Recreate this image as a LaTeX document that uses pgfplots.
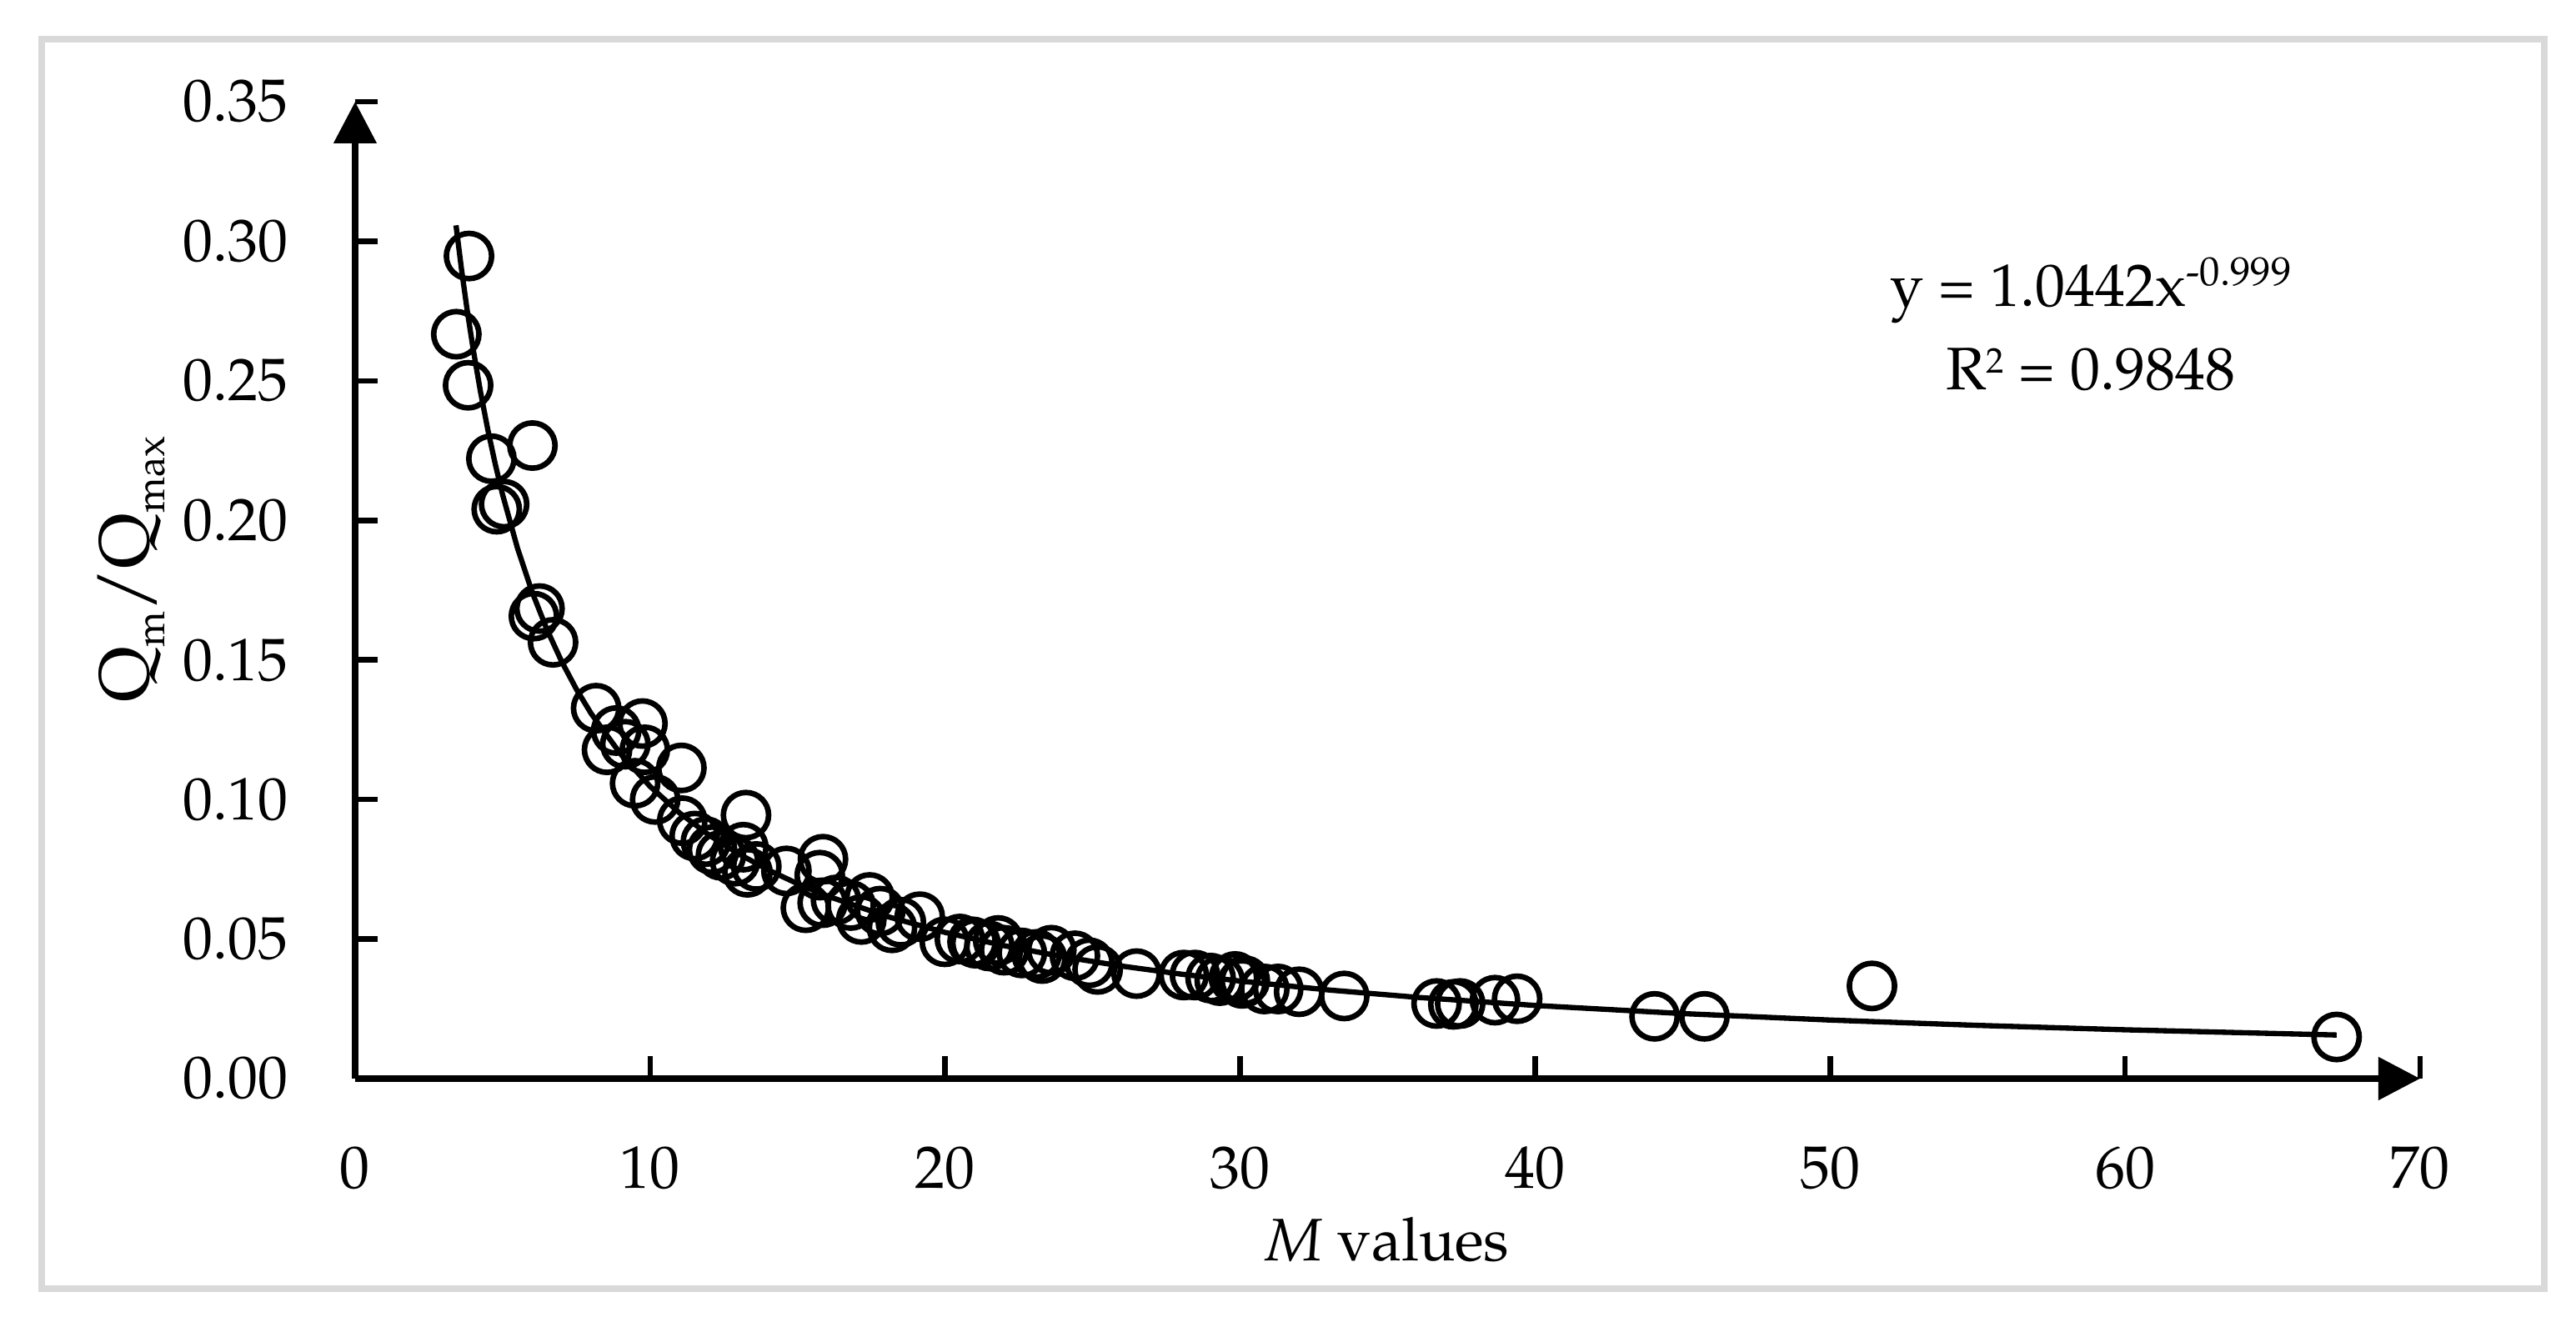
\documentclass[border=0pt]{standalone}
\usepackage[T1]{fontenc}
\usepackage{mathpazo}
\usepackage{pgfplots}
\pgfplotsset{compat=1.18}
\usetikzlibrary{arrows.meta}
\pgfplotstableread{
x y
3.43 0.2667
3.86 0.2947
3.83 0.2484
4.62 0.2221
6.01 0.2268
4.80 0.2040
5.05 0.2058
6.25 0.1684
6.06 0.1657
6.71 0.1563
8.17 0.1327
9.74 0.1272
8.85 0.1247
8.54 0.1178
9.82 0.1178
9.16 0.1198
11.06 0.1113
9.49 0.1058
10.17 0.1000
11.09 0.0924
13.25 0.0944
11.89 0.0849
11.51 0.0869
12.88 0.0779
13.16 0.0829
13.30 0.0739
12.40 0.0800
12.10 0.0820
13.60 0.0760
14.62 0.0744
15.86 0.0786
15.75 0.0729
15.28 0.0612
15.85 0.0630
16.30 0.0640
16.80 0.0620
17.44 0.0649
17.16 0.0570
17.80 0.0600
18.20 0.0540
18.50 0.0560
19.14 0.0580
19.99 0.0490
20.50 0.0500
20.93 0.0490
21.03 0.0485
21.50 0.0475
21.80 0.0495
22.00 0.0460
22.60 0.0450
23.10 0.0445
23.29 0.0430
23.60 0.0460
24.40 0.0440
24.89 0.0415
25.17 0.0391
26.49 0.0376
28.09 0.0371
28.47 0.0371
29.00 0.0360
29.31 0.0351
29.79 0.0361
29.83 0.0366
30.07 0.0341
30.16 0.0351
30.82 0.0321
31.29 0.0321
32.00 0.0311
33.53 0.0296
36.66 0.0269
37.23 0.0266
37.46 0.0269
38.64 0.0281
39.39 0.0286
44.05 0.0223
45.74 0.0223
51.42 0.0332
67.17 0.0149
}\pointdata
\pgfplotstableread{
x y
3.42 0.30570
3.6 0.29043
3.8 0.27516
4 0.26141
4.25 0.24605
4.5 0.23239
4.75 0.22017
5 0.20918
5.5 0.19018
6 0.17434
6.5 0.16095
7 0.14946
7.5 0.13951
8 0.13080
9 0.11628
10 0.10466
11 0.09516
12 0.08723
13 0.08053
14 0.07478
15 0.06980
16 0.06544
18 0.05818
20 0.05237
22 0.04761
24 0.04365
26 0.04029
28 0.03742
30 0.03493
33 0.03175
36 0.02911
40 0.02620
45 0.02329
50 0.02097
55 0.01906
60 0.01748
67.17 0.01561
}\fitdata
\newcommand{\sub}[1]{\raisebox{-2.85pt}{\fontsize{7.3}{8}\selectfont #1}}
\begin{document}
\begin{tikzpicture}
\useasboundingbox (-63.9pt,-42.9pt) rectangle (399.6pt,194.1pt);
\draw[black!15, line width=1.1pt] (-56.4pt,-37.8pt) rectangle (393.9pt,187.05pt);
\begin{axis}[
  at={(0pt,0pt)}, anchor=origin,
  scale only axis, width=371.55pt, height=175.8pt,
  xmin=0, xmax=70, ymin=0, ymax=0.35,
  clip=false,
  axis lines=left,
  axis line style={line width=1.2pt, -{Triangle[length=7.5pt,width=7.5pt]}},
  tick align=inside,
  major tick length=4pt,
  tick style={line width=1pt, black},
  xtick={0,10,20,30,40,50,60,70},
  ytick={0,0.05,0.10,0.15,0.20,0.25,0.30,0.35},
  y tick label style={/pgf/number format/fixed, /pgf/number format/fixed zerofill, /pgf/number format/precision=2},
  every tick label/.append style={font=\fontsize{10.8}{13}\selectfont},
  xticklabel style={anchor=base, yshift=-19.8pt},
  yticklabel style={anchor=east, inner sep=0pt, xshift=-11.85pt},
  xlabel={\textit{M} values},
  xlabel style={at={(axis description cs:0.5,-0.18686)}, anchor=base, font=\fontsize{10.8}{13}\selectfont},
  ylabel={Q\sub{m}/Q\sub{max}},
  ylabel style={at={(axis description cs:-0.10012,0.5213)}, anchor=base, font=\fontsize{12.7}{15}\selectfont},
]
\addplot[black, line width=0.95pt, no marks] table[x=x,y=y] {\fitdata};
\addplot[black, only marks, mark=o, mark size=4.07pt, mark options={line width=1pt}] table[x=x,y=y] {\pointdata};
\node[anchor=base, font=\fontsize{10.8}{13}\selectfont] at (axis cs:58.84,0.27654) {y = 1.0442x\raisebox{3.75pt}{\fontsize{7.3}{8}\selectfont -0.999}};
\node[anchor=base, font=\fontsize{10.8}{13}\selectfont] at (axis cs:58.84,0.24667) {R\raisebox{3pt}{\fontsize{6.4}{7}\selectfont 2} = 0.9848};
\end{axis}
\end{tikzpicture}
\end{document}
